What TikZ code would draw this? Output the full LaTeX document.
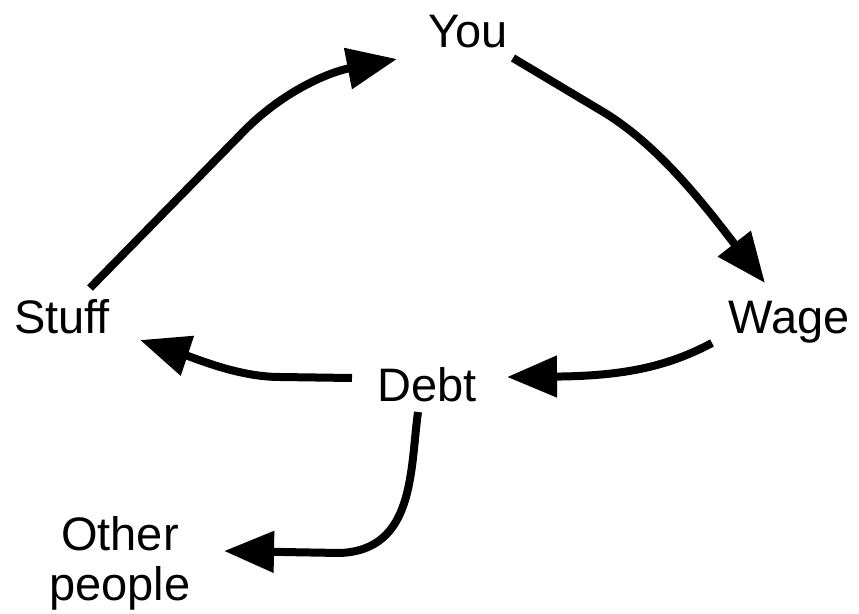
\documentclass[tikz,border=0pt]{standalone}
\usepackage{fontspec}
\setmainfont{Liberation Sans}
\usetikzlibrary{arrows.meta}
\begin{document}
\begin{tikzpicture}[x=1pt,y=-1pt,
  lbl/.style={anchor=base,inner sep=0pt,font=\fontsize{47}{50}\selectfont},
  flow/.style={line width=8pt,-{Triangle[length=50pt,width=40pt]}}]
\useasboundingbox (0,0) rectangle (859,613);
\node[lbl] (you) at (468,47) {You};
\node[lbl] (stuff) at (62,333) {Stuff};
\node[lbl] (wage) at (789,333) {Wage};
\node[lbl] (debt) at (427,401) {Debt};
\node[lbl,align=center] (other) at (120,600) {Other\\people};
% Stuff -> You
\draw[flow] ([shift={(28,-45)}]stuff.base) -- ([shift={(-223,83)}]you.base)
  .. controls ([shift={(-183,43)}]you.base) and ([shift={(-138,25)}]you.base) .. ([shift={(-71,12)}]you.base);
% You -> Wage
\draw[flow] ([shift={(45,11)}]you.base) -- ([shift={(132,63)}]you.base)
  .. controls ([shift={(192,98)}]you.base) and ([shift={(-81,-123)}]wage.base) .. ([shift={(-24,-50)}]wage.base);
% Wage -> Debt
\draw[flow] ([shift={(-77,10)}]wage.base)
  .. controls ([shift={(-124,35)}]wage.base) and ([shift={(193,-25)}]debt.base) .. ([shift={(80,-24)}]debt.base);
% Debt -> Stuff
\draw[flow] ([shift={(-75,-23)}]debt.base) -- ([shift={(-147,-24)}]debt.base)
  .. controls ([shift={(178,44)}]stuff.base) and ([shift={(138,27)}]stuff.base) .. ([shift={(78,7)}]stuff.base);
% Debt -> Other people
\draw[flow] ([shift={(-9,11)}]debt.base)
  .. controls ([shift={(-17,69)}]debt.base) and ([shift={(-12,149)}]debt.base) .. ([shift={(-87,152)}]debt.base)
  -- ([shift={(104,-49)}]other.base);
\end{tikzpicture}
\end{document}
